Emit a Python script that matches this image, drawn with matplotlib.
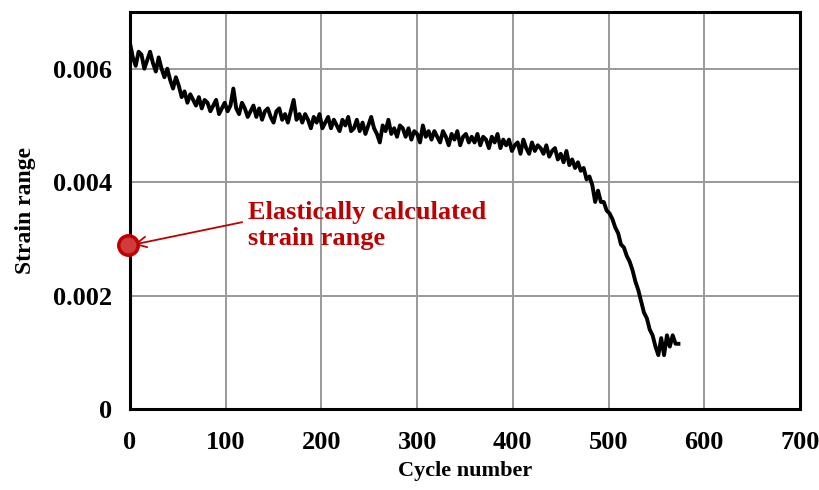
import numpy as np
import matplotlib.pyplot as plt

plt.rcParams['font.family'] = ['Liberation Serif', 'DejaVu Serif']
plt.rcParams['font.weight'] = 'bold'

# strain range, in microstrain, every 3 cycles
cycles = np.arange(0, 576, 3)
strain_ue = [
    6450, 6200, 6050, 6300, 6250, 6000, 6150, 6300, 6100, 5950, 6200, 6000,
    5850, 6000, 5800, 5650, 5850, 5700, 5500, 5600, 5400, 5550, 5450, 5350,
    5500, 5300, 5450, 5400, 5250, 5350, 5450, 5200, 5300, 5400, 5250, 5350,
    5650, 5300, 5200, 5400, 5300, 5150, 5250, 5350, 5150, 5300, 5100, 5250,
    5300, 5150, 5050, 5250, 5300, 5100, 5200, 5050, 5250, 5450, 5100, 5200,
    5050, 5200, 5100, 4950, 5150, 5050, 5200, 4950, 5050, 5150, 4950, 5100,
    5000, 4900, 5100, 5000, 5150, 4900, 4950, 5100, 4900, 5050, 4850, 5000,
    5150, 4950, 4850, 4700, 5000, 4900, 5100, 4850, 4950, 4800, 5000, 4950,
    4800, 4950, 4750, 4900, 4850, 4700, 5000, 4800, 4900, 4750, 4900, 4800,
    4700, 4900, 4800, 4650, 4850, 4750, 4900, 4650, 4800, 4850, 4700, 4800,
    4700, 4850, 4650, 4800, 4750, 4600, 4800, 4700, 4850, 4600, 4750, 4650,
    4750, 4550, 4650, 4700, 4500, 4750, 4600, 4500, 4700, 4550, 4650, 4600,
    4500, 4650, 4450, 4550, 4600, 4400, 4500, 4350, 4550, 4300, 4400, 4250,
    4350, 4200, 4250, 4050, 4100, 3950, 3650, 3850, 3650, 3650, 3500, 3450,
    3350, 3200, 3100, 2900, 2850, 2700, 2600, 2450, 2250, 2100, 1900, 1700,
    1600, 1400, 1300, 1100, 950, 1250, 950, 1300, 1100, 1300, 1150, 1150,
]
elastic_cycle = -2
elastic_strain = 0.0029

strain = np.array(strain_ue) * 1e-6

fig = plt.figure(figsize=(8.19, 4.90), dpi=100)
ax = fig.add_axes([0.1587, 0.1653, 0.8181, 0.8102])

ax.plot(cycles, strain, color='black', lw=2.8, zorder=3)

red = '#c00000'
ax.plot([elastic_cycle], [elastic_strain], marker='o', ms=14, mfc='#d03c3c',
        mec='#c00000', mew=2.5, clip_on=False, zorder=5)
ax.annotate('Elastically calculated\nstrain range',
            xy=(elastic_cycle + 6, elastic_strain), xytext=(123, 0.00366),
            color=red, fontsize=19, fontweight='bold', va='top', ha='left',
            linespacing=1.17,
            arrowprops=dict(arrowstyle='->', color=red, lw=1.3,
                            shrinkA=2, shrinkB=0,
                            relpos=(0.0, 0.6)))

ax.set_xlim(0, 700)
ax.set_ylim(0, 0.007)
ax.set_xticks(range(0, 701, 100))
ax.set_yticks([0, 0.002, 0.004, 0.006])
ax.set_yticklabels(['0', '0.002', '0.004', '0.006'])
ax.tick_params(length=0, labelsize=19)
ax.tick_params(axis='y', pad=13)
ax.tick_params(axis='x', pad=16)
ax.grid(color='#999999', lw=1.4)
ax.set_axisbelow(True)
for s in ax.spines.values():
    s.set_linewidth(2.2)

ax.set_xlabel('Cycle number', fontsize=16, fontweight='bold', labelpad=5)
ax.set_ylabel('Strain range', fontsize=17, fontweight='bold', labelpad=12)

fig.savefig('out.png', dpi=100)
